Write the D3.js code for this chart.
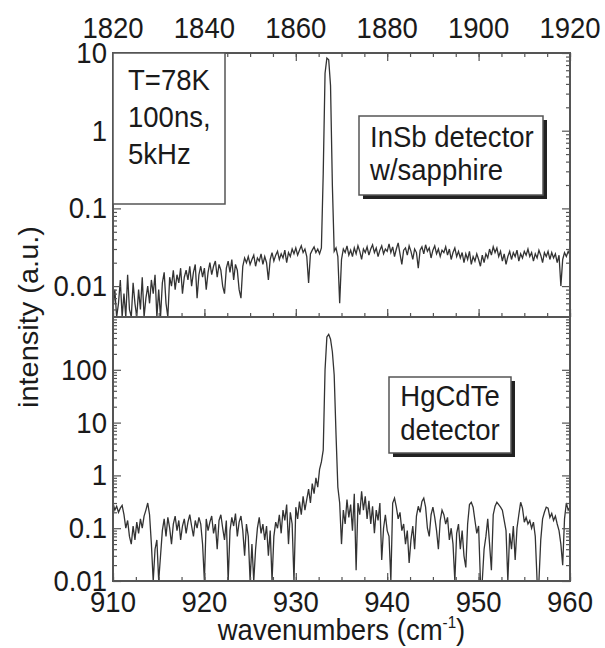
<!DOCTYPE html>
<html>
<head>
<meta charset="utf-8">
<script src="https://cdn.jsdelivr.net/npm/d3@7/dist/d3.min.js"></script>
<style>
body { margin: 0; background: #fff; }
text { font-family: "Liberation Sans", Arial, sans-serif; fill: #1a1a1a; }
</style>
</head>
<body>
<div id="chart"></div>
<script>
// spectra sampled every 0.2 cm-1 from 910 to 960
var wnStart = 910, wnStep = 0.2;

// top panel: InSb detector w/sapphire
var insbValues = [
  0.005, 0.009, 0.004, 0.006, 0.012, 0.004, 0.008, 0.004, 0.014, 0.005,
  0.004, 0.011, 0.006, 0.004, 0.009, 0.005, 0.013, 0.004, 0.007, 0.010,
  0.006, 0.012, 0.008, 0.014, 0.004, 0.009, 0.004, 0.011, 0.015, 0.006,
  0.004, 0.013, 0.010, 0.016, 0.009, 0.014, 0.011, 0.017, 0.008, 0.013,
  0.016, 0.012, 0.018, 0.010, 0.015, 0.019, 0.007, 0.014, 0.018, 0.013,
  0.017, 0.009, 0.015, 0.020, 0.014, 0.018, 0.021, 0.013, 0.019, 0.016,
  0.010, 0.008, 0.017, 0.021, 0.015, 0.022, 0.012, 0.019, 0.016, 0.009,
  0.007, 0.018, 0.023, 0.020, 0.024, 0.019, 0.022, 0.025, 0.018, 0.023,
  0.021, 0.026, 0.019, 0.024, 0.020, 0.012, 0.022, 0.027, 0.021, 0.025,
  0.028, 0.022, 0.026, 0.023, 0.029, 0.020, 0.027, 0.024, 0.030, 0.026,
  0.031, 0.025, 0.029, 0.033, 0.027, 0.030, 0.024, 0.011, 0.026, 0.029,
  0.032, 0.027, 0.030, 0.026, 0.031, 0.28, 5.5, 8.6, 8.2, 3.8,
  0.2, 0.028, 0.031, 0.024, 0.006, 0.022, 0.030, 0.027, 0.033, 0.025,
  0.029, 0.024, 0.031, 0.026, 0.033, 0.028, 0.022, 0.030, 0.027, 0.032,
  0.025, 0.030, 0.034, 0.027, 0.031, 0.024, 0.029, 0.033, 0.026, 0.030,
  0.028, 0.035, 0.027, 0.032, 0.024, 0.030, 0.036, 0.026, 0.019, 0.029,
  0.031, 0.025, 0.033, 0.028, 0.022, 0.030, 0.027, 0.017, 0.029, 0.032,
  0.026, 0.034, 0.028, 0.031, 0.023, 0.029, 0.033, 0.026, 0.030, 0.024,
  0.029, 0.027, 0.032, 0.025, 0.030, 0.022, 0.027, 0.031, 0.024, 0.028,
  0.023, 0.027, 0.020, 0.026, 0.022, 0.028, 0.019, 0.024, 0.021, 0.026,
  0.022, 0.018, 0.025, 0.020, 0.026, 0.023, 0.030, 0.025, 0.032, 0.027,
  0.031, 0.024, 0.028, 0.021, 0.026, 0.019, 0.024, 0.028, 0.022, 0.027,
  0.024, 0.029, 0.021, 0.026, 0.023, 0.028, 0.025, 0.030, 0.024, 0.027,
  0.021, 0.026, 0.023, 0.029, 0.025, 0.020, 0.027, 0.024, 0.028, 0.022,
  0.027, 0.023, 0.026, 0.020, 0.025, 0.010, 0.022, 0.027, 0.024, 0.028,
  0.025
];

// bottom panel: HgCdTe detector
var hgcdteValues = [
  0.30, 0.22, 0.26, 0.20, 0.24, 0.27, 0.18, 0.10, 0.14, 0.07,
  0.05, 0.11, 0.06, 0.13, 0.08, 0.15, 0.10, 0.17, 0.22, 0.30,
  0.18, 0.05, 0.01, 0.04, 0.06, 0.01, 0.03, 0.09, 0.15, 0.07,
  0.16, 0.10, 0.05, 0.12, 0.17, 0.09, 0.14, 0.06, 0.11, 0.15,
  0.08, 0.13, 0.18, 0.11, 0.07, 0.14, 0.10, 0.16, 0.12, 0.05,
  0.01, 0.15, 0.09, 0.13, 0.17, 0.08, 0.12, 0.04, 0.14, 0.18,
  0.10, 0.06, 0.14, 0.01, 0.09, 0.16, 0.11, 0.19, 0.07, 0.13,
  0.17, 0.09, 0.03, 0.12, 0.07, 0.01, 0.05, 0.01, 0.04, 0.10,
  0.16, 0.08, 0.12, 0.06, 0.11, 0.03, 0.09, 0.01, 0.07, 0.13,
  0.10, 0.18, 0.08, 0.22, 0.14, 0.28, 0.05, 0.20, 0.12, 0.01,
  0.25, 0.15, 0.32, 0.18, 0.40, 0.22, 0.35, 0.55, 0.30, 0.70,
  0.45, 0.90, 0.60, 1.3, 1.8, 3.0, 100, 420, 470, 380,
  220, 80, 6, 0.6, 0.3, 0.05, 0.22, 0.12, 0.35, 0.16,
  0.28, 0.09, 0.45, 0.016, 0.30, 0.18, 0.50, 0.22, 0.40, 0.15,
  0.33, 0.12, 0.26, 0.08, 0.22, 0.14, 0.30, 0.025, 0.10, 0.18,
  0.09, 0.07, 0.01, 0.30, 0.37, 0.25, 0.15, 0.20, 0.09, 0.12,
  0.05, 0.09, 0.022, 0.06, 0.11, 0.04, 0.17, 0.26, 0.20, 0.32,
  0.37, 0.25, 0.10, 0.07, 0.18, 0.25, 0.16, 0.09, 0.04, 0.14,
  0.22, 0.18, 0.12, 0.16, 0.06, 0.10, 0.05, 0.01, 0.08, 0.12,
  0.04, 0.09, 0.03, 0.018, 0.12, 0.28, 0.31, 0.25, 0.14, 0.08,
  0.11, 0.01, 0.01, 0.04, 0.07, 0.15, 0.05, 0.016, 0.18, 0.26,
  0.31, 0.28, 0.25, 0.22, 0.14, 0.09, 0.01, 0.08, 0.04, 0.11,
  0.025, 0.10, 0.18, 0.31, 0.24, 0.13, 0.16, 0.12, 0.14, 0.10,
  0.13, 0.07, 0.01, 0.01, 0.06, 0.15, 0.20, 0.25, 0.24, 0.16,
  0.19, 0.14, 0.17, 0.12, 0.09, 0.05, 0.02, 0.15, 0.30, 0.22,
  0.25
];

var bottomTicks = [910, 920, 930, 940, 950, 960];
var topTicks = [1820, 1840, 1860, 1880, 1900, 1920];
var insbTicks = [0.01, 0.1, 1, 10];
var insbLabels = ["0.01", "0.1", "1", "10"];
var hgcdteTicks = [0.01, 0.1, 1, 10, 100];
var hgcdteLabels = ["0.01", "0.1", "1", "10", "100"];
var insbNote = ["T=78K", "100ns,", "5kHz"];
var insbTitle = ["InSb detector", "w/sapphire"];
var hgcdteTitle = ["HgCdTe", "detector"];

var W = 605, H = 648;
var pLeft = 113, pRight = 570, pTop = 53, pMid = 317, pBottom = 581;
var fs = 29, sx = 0.95;

var svg = d3.select("#chart").append("svg")
    .attr("width", W).attr("height", H);

var x = d3.scaleLinear().domain([910, 960]).range([pLeft, pRight]);
var xTop = d3.scaleLinear().domain([1820, 1920]).range([pLeft, pRight]);
var yTop = d3.scaleLog().domain([0.004, 10]).range([pMid, pTop]);
var yBot = d3.scaleLog().domain([0.01, 1000]).range([pBottom, pMid]);

function txt(g, px, py, s, anchor) {
    return g.append("text")
        .attr("transform", "translate(" + px + "," + py + ") scale(" + sx + ",1)")
        .attr("text-anchor", anchor)
        .style("font-size", fs + "px")
        .text(s);
}

function logMinors(scale) {
    var d = scale.domain(), out = [];
    for (var e = -4; e <= 4; e++) {
        for (var k = 2; k <= 9; k++) {
            var v = k * Math.pow(10, e);
            if (v > d[0] && v < d[1]) out.push(v);
        }
    }
    return out;
}

function frameAxis(axis, tx, ty, vals, size) {
    svg.append("g")
        .attr("class", "ax")
        .attr("transform", "translate(" + tx + "," + ty + ")")
        .call(axis.tickValues(vals).tickSize(size).tickFormat(""));
}

// data lines
var line = function (ys) {
    return d3.line()
        .x(function (d, i) { return x(wnStart + i * wnStep); })
        .y(function (d) { return ys(d); });
};

var defs = svg.append("defs");
defs.append("clipPath").attr("id", "clipTop").append("rect")
    .attr("x", pLeft).attr("y", pTop).attr("width", pRight - pLeft).attr("height", pMid - pTop);
defs.append("clipPath").attr("id", "clipBot").append("rect")
    .attr("x", pLeft).attr("y", pMid).attr("width", pRight - pLeft).attr("height", pBottom - pMid);

svg.append("path")
    .datum(insbValues.map(function (v) { return Math.max(v, 0.004); }))
    .attr("clip-path", "url(#clipTop)")
    .attr("d", line(yTop))
    .attr("fill", "none").attr("stroke", "#333").attr("stroke-width", 1.3);

svg.append("path")
    .datum(hgcdteValues.map(function (v) { return Math.max(v, 0.01); }))
    .attr("clip-path", "url(#clipBot)")
    .attr("d", line(yBot))
    .attr("fill", "none").attr("stroke", "#333").attr("stroke-width", 1.3);

// ticks, all pointing inward
var xMinTop = d3.range(1820, 1921, 5);
var xMinBot = d3.range(910, 960.1, 2.5);
frameAxis(d3.axisTop(xTop), 0, pTop, topTicks, -8);
frameAxis(d3.axisTop(xTop), 0, pTop, xMinTop, -4);
frameAxis(d3.axisBottom(x), 0, pMid, bottomTicks, -8);
frameAxis(d3.axisBottom(x), 0, pMid, xMinBot, -4);
frameAxis(d3.axisBottom(x), 0, pBottom, bottomTicks, -8);
frameAxis(d3.axisBottom(x), 0, pBottom, xMinBot, -4);

[[yTop, insbTicks], [yBot, hgcdteTicks]].forEach(function (p) {
    frameAxis(d3.axisLeft(p[0]), pLeft, 0, p[1], -8);
    frameAxis(d3.axisLeft(p[0]), pLeft, 0, logMinors(p[0]), -4);
    frameAxis(d3.axisRight(p[0]), pRight, 0, p[1], -8);
    frameAxis(d3.axisRight(p[0]), pRight, 0, logMinors(p[0]), -4);
});

svg.selectAll(".ax path").remove();
svg.selectAll(".ax line").attr("stroke", "#555").attr("stroke-width", 1.2);

// frame
svg.append("rect")
    .attr("x", pLeft).attr("y", pTop)
    .attr("width", pRight - pLeft).attr("height", pBottom - pTop)
    .attr("fill", "none").attr("stroke", "#555").attr("stroke-width", 2);
svg.append("line")
    .attr("x1", pLeft).attr("x2", pRight).attr("y1", pMid).attr("y2", pMid)
    .attr("stroke", "#555").attr("stroke-width", 2);

// tick labels
var lab = svg.append("g");
insbTicks.forEach(function (v, i) { txt(lab, 107, yTop(v) + 10, insbLabels[i], "end"); });
hgcdteTicks.forEach(function (v, i) { txt(lab, 107, yBot(v) + 10, hgcdteLabels[i], "end"); });
bottomTicks.forEach(function (v) { txt(lab, x(v), 612, v, "middle"); });
topTicks.forEach(function (v) { txt(lab, xTop(v), 38, v, "middle"); });

// axis titles
var xl = txt(lab, (pLeft + pRight) / 2, 640, "wavenumbers (cm", "middle");
xl.append("tspan").attr("dy", -12).style("font-size", "16px").text("-1");
xl.append("tspan").attr("dy", 12).text(")");

lab.append("text")
    .attr("transform", "translate(38," + pMid + ") rotate(-90) scale(1," + sx + ")")
    .attr("text-anchor", "middle")
    .style("font-size", fs + "px")
    .text("intensity (a.u.)");

// annotation boxes
function box(bx, by, bw, bh, shadow) {
    if (shadow) {
        svg.append("rect").attr("x", bx + 4).attr("y", by + 4)
            .attr("width", bw).attr("height", bh).attr("fill", "#222");
    }
    svg.append("rect").attr("x", bx).attr("y", by)
        .attr("width", bw).attr("height", bh)
        .attr("fill", "#fff").attr("stroke", "#555").attr("stroke-width", 1.5);
}

box(pLeft, pTop, 112, 151, false);
insbNote.forEach(function (s, i) { txt(svg, 128, 90 + i * 37, s, "start"); });

box(359, 116, 184, 79, true);
insbTitle.forEach(function (s, i) { txt(svg, 370, 147 + i * 33, s, "start"); });

box(389, 377, 122, 76, true);
hgcdteTitle.forEach(function (s, i) { txt(svg, 450, 406 + i * 34, s, "middle"); });
</script>
</body>
</html>
